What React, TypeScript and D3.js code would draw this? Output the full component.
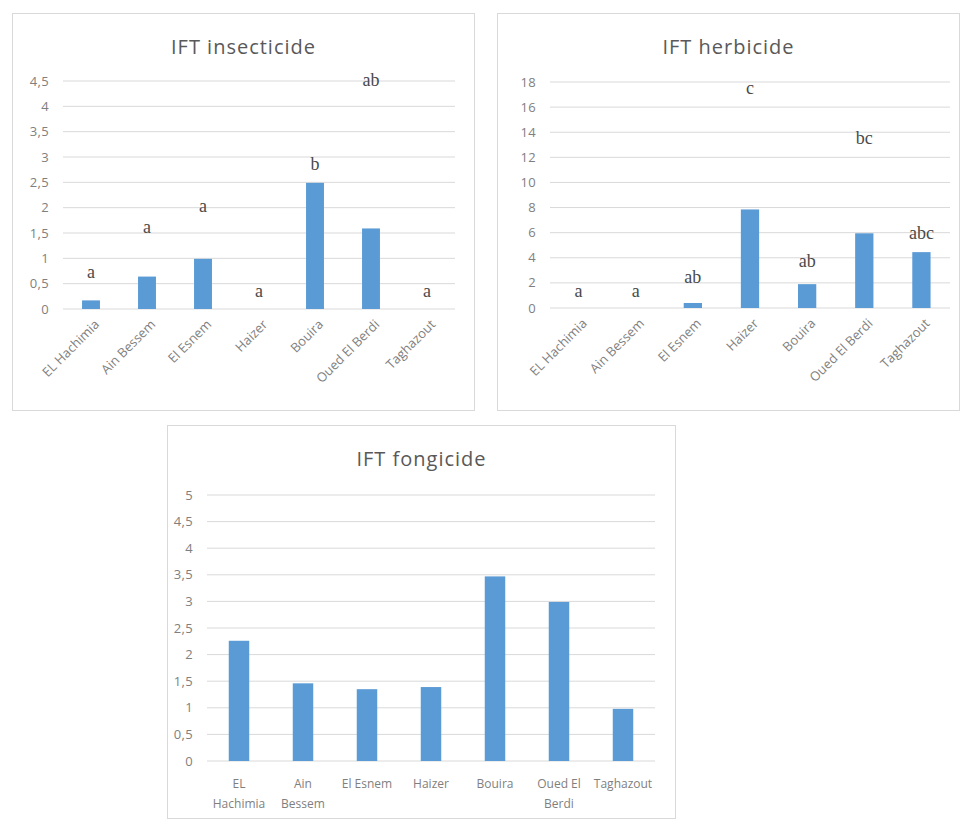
import React from "react";
import * as d3 from "d3";

// Sites (x categories), shared by all three panels
const sites = ["EL Hachimia", "Ain Bessem", "El Esnem", "Haizer", "Bouira", "Oued El Berdi", "Taghazout"];
// Wrapped labels used on the fungicide panel
const fongicideLabelLines = [["EL", "Hachimia"], ["Ain", "Bessem"], ["El Esnem"], ["Haizer"], ["Bouira"], ["Oued El", "Berdi"], ["Taghazout"]];

// IFT insecticide
const insecticideValues = [0.17, 0.64, 0.99, 0, 2.49, 1.59, 0];
const insecticideLetters = ["a", "a", "a", "a", "b", "ab", "a"];
const insecticideLetterLevels = [0.72, 1.6, 2.02, 0.34, 2.85, 4.5, 0.34];
const insecticideTicks = [0, 0.5, 1, 1.5, 2, 2.5, 3, 3.5, 4, 4.5];

// IFT herbicide
const herbicideValues = [0, 0, 0.4, 7.85, 1.9, 5.95, 4.45];
const herbicideLetters = ["a", "a", "ab", "c", "ab", "bc", "abc"];
const herbicideLetterLevels = [1.3, 1.3, 2.4, 17.5, 3.7, 13.5, 5.9];
const herbicideTicks = [0, 2, 4, 6, 8, 10, 12, 14, 16, 18];

// IFT fongicide
const fongicideValues = [2.26, 1.46, 1.35, 1.39, 3.47, 2.99, 0.98];
const fongicideTicks = [0, 0.5, 1, 1.5, 2, 2.5, 3, 3.5, 4, 4.5, 5];

const BAR = "#5b9bd5";
const GRID = "#d9d9d9";
const TEXT = "#595959";
const LABEL = "#7f7f7f";
const SANS = "'Open Sans', 'Noto Sans', sans-serif";
const SERIF = "'Liberation Serif', 'DejaVu Serif', serif";

const fmt = (v: number) => String(v).replace(".", ",");

type PanelProps = {
  title: string;
  frame: { x: number; y: number; w: number; h: number };
  plot: { x0: number; x1: number; yTop: number; yBottom: number };
  titleY: number;
  ticks: number[];
  values: number[];
  letters?: string[];
  letterLevels?: number[];
  wrapped?: string[][];
};

function Panel({ title, frame, plot, titleY, ticks, values, letters, letterLevels, wrapped }: PanelProps) {
  const yMax = ticks[ticks.length - 1];
  const y = d3.scaleLinear().domain([0, yMax]).range([plot.yBottom, plot.yTop]);
  const x = d3.scaleBand<string>().domain(sites).range([plot.x0, plot.x1]).paddingInner(0.68).paddingOuter(0.34);
  const cx = (s: string) => (x(s) ?? 0) + x.bandwidth() / 2;

  return (
    <g>
      <rect x={frame.x} y={frame.y} width={frame.w} height={frame.h} fill="#fff" stroke={GRID} strokeWidth={1} />
      <text
        x={frame.x + frame.w / 2}
        y={titleY}
        textAnchor="middle"
        fontFamily={SANS}
        fontSize={20}
        letterSpacing={1}
        fill={TEXT}
      >
        {title}
      </text>
      {ticks.map((t) => (
        <g key={t}>
          <line x1={plot.x0} x2={plot.x1} y1={y(t)} y2={y(t)} stroke={GRID} strokeWidth={1} />
          <text
            x={plot.x0 - 14}
            y={y(t)}
            dy="0.35em"
            textAnchor="end"
            fontFamily={SANS}
            fontSize={13}
            letterSpacing={0.3}
            fill={LABEL}
          >
            {fmt(t)}
          </text>
        </g>
      ))}
      {sites.map((s, i) => (
        <rect
          key={s}
          x={x(s)}
          y={y(values[i])}
          width={x.bandwidth()}
          height={y(0) - y(values[i])}
          fill={BAR}
        />
      ))}
      {letters &&
        letterLevels &&
        sites.map((s, i) => (
          <text
            key={s}
            x={cx(s)}
            y={y(letterLevels[i])}
            dy="0.3em"
            textAnchor="middle"
            fontFamily={SERIF}
            fontSize={18}
            fill="#4a4a4a"
          >
            {letters[i]}
          </text>
        ))}
      {!wrapped &&
        sites.map((s) => (
          <text
            key={s}
            transform={`translate(${cx(s) + 6},${plot.yBottom + 13}) rotate(-45)`}
            textAnchor="end"
            dy="0.35em"
            fontFamily={SANS}
            fontSize={13}
            fill={LABEL}
          >
            {s}
          </text>
        ))}
      {wrapped &&
        sites.map((s, i) => (
          <text key={s} x={cx(s)} y={plot.yBottom + 27} textAnchor="middle" fontFamily={SANS} fontSize={12} fill={LABEL}>
            {wrapped[i].map((line, k) => (
              <tspan key={k} x={cx(s)} dy={k === 0 ? 0 : 20}>
                {line}
              </tspan>
            ))}
          </text>
        ))}
    </g>
  );
}

export default function App() {
  return (
    <svg width={961} height={821} style={{ position: "absolute", left: 0, top: 0, background: "#fff" }}>
      <rect width={961} height={821} fill="#fff" />
      <Panel
        title="IFT insecticide"
        frame={{ x: 12.5, y: 13.5, w: 462, h: 397 }}
        plot={{ x0: 63, x1: 455, yTop: 81, yBottom: 309 }}
        titleY={54}
        ticks={insecticideTicks}
        values={insecticideValues}
        letters={insecticideLetters}
        letterLevels={insecticideLetterLevels}
      />
      <Panel
        title="IFT herbicide"
        frame={{ x: 497.5, y: 13.5, w: 462, h: 397 }}
        plot={{ x0: 550, x1: 950, yTop: 82, yBottom: 308 }}
        titleY={54}
        ticks={herbicideTicks}
        values={herbicideValues}
        letters={herbicideLetters}
        letterLevels={herbicideLetterLevels}
      />
      <Panel
        title="IFT fongicide"
        frame={{ x: 167.5, y: 425.5, w: 508, h: 393 }}
        plot={{ x0: 207, x1: 655, yTop: 495, yBottom: 761 }}
        titleY={466}
        ticks={fongicideTicks}
        values={fongicideValues}
        wrapped={fongicideLabelLines}
      />
    </svg>
  );
}
